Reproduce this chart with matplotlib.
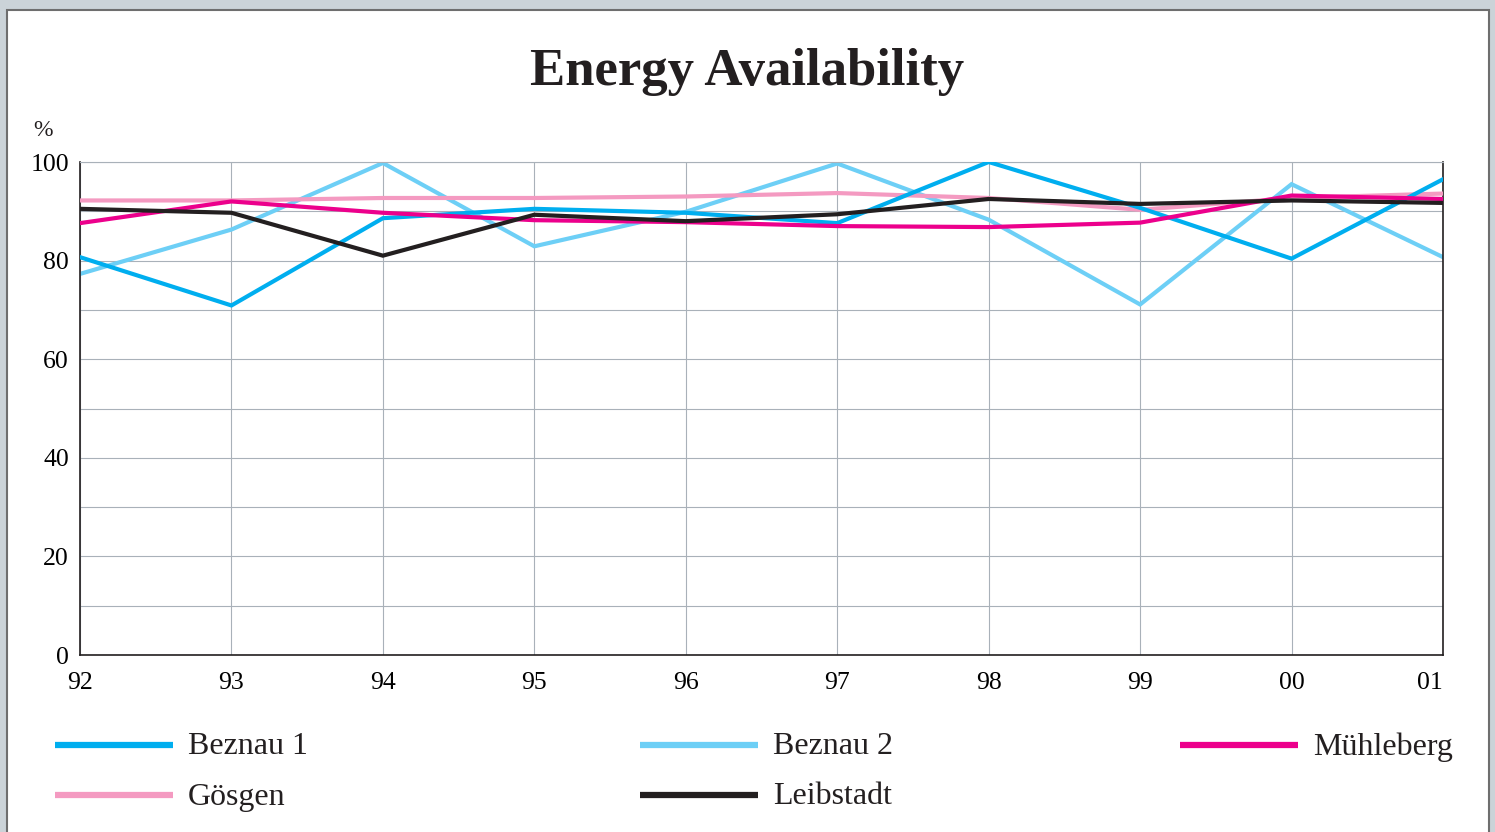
import matplotlib
matplotlib.use("Agg")
import matplotlib.pyplot as plt
from matplotlib.lines import Line2D
from matplotlib.patches import Rectangle

years = ['92', '93', '94', '95', '96', '97', '98', '99', '00', '01']
beznau1 = [80.7, 70.9, 88.6, 90.5, 89.7, 87.6, 100.0, 90.7, 80.4, 96.5]
beznau2 = [77.3, 86.3, 99.8, 82.9, 89.9, 99.7, 88.3, 71.1, 95.5, 80.7]
muehleberg = [87.6, 92.0, 89.7, 88.2, 87.8, 87.0, 86.8, 87.7, 93.2, 92.5]
goesgen = [92.2, 92.2, 92.7, 92.7, 93.0, 93.7, 92.7, 90.3, 92.7, 93.6]
leibstadt = [90.5, 89.7, 81.0, 89.3, 88.0, 89.4, 92.5, 91.5, 92.2, 91.7]

names = ['Beznau 1', 'Beznau 2', 'Mühleberg', 'Gösgen', 'Leibstadt']
series = [beznau1, beznau2, muehleberg, goesgen, leibstadt]
colors = ['#00AEEF', '#6DCFF6', '#EC008C', '#F49AC1', '#231F20']
zorders = [4, 2, 5, 3, 6]

W, H = 1495, 832
fig = plt.figure(figsize=(W / 100, H / 100), dpi=100)
fig.patch.set_facecolor('#CBD3D8')
plt.rcParams['font.family'] = ['Liberation Serif', 'DejaVu Serif']

panel = Rectangle((7 / W, -0.05), (1489 - 7) / W, 1.05 - 10 / H,
                  transform=fig.transFigure, facecolor='white',
                  edgecolor='#6E6E6E', linewidth=1.5, zorder=0)
fig.add_artist(panel)

ax = fig.add_axes([80 / W, 1 - 655 / H, (1443 - 80) / W, (655 - 162) / H])
ax.set_facecolor('white')
x = list(range(len(years)))
for s, c, z in zip(series, colors, zorders):
    ax.plot(x, s, color=c, linewidth=3.0, solid_joinstyle='miter', zorder=z)

ax.set_xlim(0, len(years) - 1)
ax.set_ylim(0, 100)
ax.set_xticks(x)
ax.set_xticklabels(years)
ax.set_yticks(range(0, 101, 20))
ax.set_yticks(range(10, 100, 20), minor=True)
ax.grid(True, which='both', color='#A9B1B9', linewidth=0.8, zorder=1)
ax.set_axisbelow(True)
ax.tick_params(axis='both', which='both', length=0, labelsize=18.5)
ax.tick_params(axis='x', pad=12)
ax.tick_params(axis='y', pad=8)
ax.get_xticklabels()[-1].set_horizontalalignment('right')
ax.get_xticklabels()[-1].set_x(len(years) - 1)
for side in ['left', 'bottom', 'right']:
    ax.spines[side].set_color('#231F20')
    ax.spines[side].set_linewidth(1.2)
ax.spines['top'].set_color('#A9B1B9')
ax.spines['top'].set_linewidth(0.8)

fig.text(747 / W, 1 - 72 / H, 'Energy Availability', fontsize=38,
         fontweight='bold', ha='center', va='center', color='#231F20')
fig.text(33 / W, 1 - 130 / H, '%', fontsize=17, ha='left', va='center',
         color='#231F20')

# legend (manual placement)
leg_pos = [(55, 745), (640, 745), (1180, 745), (55, 795), (640, 795)]
for (lx, ly), name, c in zip(leg_pos, names, colors):
    fig.add_artist(Line2D([lx / W, (lx + 118) / W], [1 - ly / H, 1 - ly / H],
                          transform=fig.transFigure, color=c, linewidth=4.5,
                          solid_capstyle='butt'))
    fig.text((lx + 133) / W, 1 - (ly + 2) / H, name, fontsize=23, ha='left',
             va='center', color='#231F20')

fig.savefig('out.png', dpi=100, facecolor=fig.get_facecolor())
